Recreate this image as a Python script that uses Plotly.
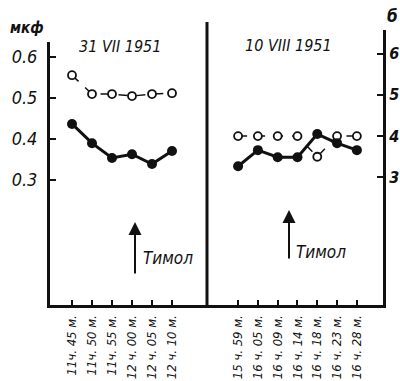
import plotly.graph_objects as go

# Readings, 31 VII 1951 (left scale, мкф)
left_times = ["11ч. 45 м.", "11ч. 50 м.", "11ч. 55 м.", "12 ч. 00 м.", "12 ч. 05 м.", "12 ч. 10 м."]
left_open = [0.556, 0.510, 0.510, 0.505, 0.510, 0.512]
left_filled = [0.437, 0.390, 0.354, 0.363, 0.339, 0.371]

# Readings, 10 VIII 1951 (right scale)
right_times = ["15 ч. 59 м.", "16 ч. 05 м.", "16 ч. 09 м.", "16 ч. 14 м.",
               "16 ч. 18 м.", "16 ч. 23 м.", "16 ч. 28 м."]
right_open = [4.0, 4.0, 4.0, 4.0, 3.5, 4.0, 4.0]
right_filled = [3.27, 3.66, 3.49, 3.49, 4.05, 3.83, 3.66]

left_ticks = [0.3, 0.4, 0.5, 0.6]
right_ticks = [3, 4, 5, 6]

FONT = "DejaVu Sans Condensed, Liberation Sans Narrow, Liberation Sans, sans-serif"
INK = "#111111"

W, H = 400, 381
L, R, T, B = 50, 17, 22, 76
PW, PH = W - L - R, H - T - B


def px(x):
    return (x - L) / PW


def py(y):
    return (H - B - y) / PH


fig = go.Figure()

li = list(range(len(left_times)))
ri = list(range(len(right_times)))

open_marker = dict(symbol="circle", size=8, color="white", line=dict(width=1.8, color=INK))
fill_marker = dict(symbol="circle", size=10, color=INK)

fig.add_trace(go.Scatter(
    x=li, y=left_open, xaxis="x", yaxis="y", mode="lines+markers",
    line=dict(color=INK, width=1.5, dash="dash"), marker=open_marker,
    showlegend=False, hoverinfo="skip"))
fig.add_trace(go.Scatter(
    x=li, y=left_filled, xaxis="x", yaxis="y", mode="lines+markers",
    line=dict(color=INK, width=3), marker=fill_marker,
    showlegend=False, hoverinfo="skip"))
fig.add_trace(go.Scatter(
    x=ri, y=right_open, xaxis="x2", yaxis="y2", mode="lines+markers",
    line=dict(color=INK, width=1.5, dash="dash"), marker=open_marker,
    showlegend=False, hoverinfo="skip"))
fig.add_trace(go.Scatter(
    x=ri, y=right_filled, xaxis="x2", yaxis="y2", mode="lines+markers",
    line=dict(color=INK, width=3), marker=fill_marker,
    showlegend=False, hoverinfo="skip"))

split = px(207)
tick_font = dict(family=FONT, size=13, color=INK, style="italic")

fig.update_layout(
    width=W, height=H,
    margin=dict(l=L, r=R, t=T, b=B, autoexpand=False),
    paper_bgcolor="white", plot_bgcolor="white",
    xaxis=dict(domain=[0, split], range=[-1.1, 6.75], anchor="y", automargin=False,
               tickmode="array", tickvals=li, ticktext=left_times,
               tickangle=-90, ticks="inside", ticklen=5, tickwidth=2, tickcolor=INK,
               ticklabelstandoff=2,
               showline=True, linewidth=3, linecolor=INK, showgrid=False, zeroline=False,
               tickfont=tick_font),
    xaxis2=dict(domain=[split, 1], range=[-1.57, 7.32], anchor="y2", automargin=False,
                tickmode="array", tickvals=ri, ticktext=right_times,
                tickangle=-90, ticks="inside", ticklen=5, tickwidth=2, tickcolor=INK,
                ticklabelstandoff=2,
                showline=True, linewidth=3, linecolor=INK, showgrid=False, zeroline=False,
                tickfont=tick_font),
    yaxis=dict(domain=[0, py(42)], range=[-0.005, 0.637], anchor="x", automargin=False,
               tickmode="array", tickvals=left_ticks,
               ticktext=[f"{v:.1f}" for v in left_ticks],
               ticks="inside", ticklen=6, tickwidth=2, tickcolor=INK,
               ticklabelstandoff=6,
               showline=True, linewidth=3, linecolor=INK, showgrid=False, zeroline=False,
               tickfont=dict(family=FONT, size=18, color=INK, style="italic")),
    yaxis2=dict(domain=[0, py(30)], range=[-0.09, 6.57], anchor="x2", side="right",
                automargin=False,
                tickmode="array", tickvals=right_ticks,
                ticktext=[str(v) for v in right_ticks],
                ticks="inside", ticklen=6, tickwidth=2, tickcolor=INK,
                ticklabelstandoff=0,
                showline=True, linewidth=3, linecolor=INK, showgrid=False, zeroline=False,
                tickfont=dict(family=FONT, size=16, color=INK, style="italic", weight="bold")),
    shapes=[dict(type="line", xref="paper", yref="paper",
                 x0=split, x1=split, y0=0, y1=1,
                 line=dict(color=INK, width=3))],
)

title_font = dict(family=FONT, size=16, color=INK, style="italic")


def label(text, x, y, font, xanchor="center"):
    fig.add_annotation(text=text, xref="paper", yref="paper", x=px(x), y=py(y),
                       xanchor=xanchor, yanchor="middle", showarrow=False, font=font)


label("мкф", 27, 28, dict(family=FONT, size=15, color=INK, style="italic", weight="bold"))
label("31 VII 1951", 120, 46, title_font)
label("10 VIII 1951", 288, 45, title_font)
label("б", 400, 16, dict(family=FONT, size=17, color=INK, style="italic", weight="bold"),
      xanchor="right")

# Thymol addition markers
for ax_x, head_y, tail_len, txt_x, txt_y in [(135, 222, 53, 141, 258),
                                             (289, 210, 50, 294, 252)]:
    fig.add_annotation(text="", xref="paper", yref="paper", x=px(ax_x), y=py(head_y),
                       ax=0, ay=tail_len, showarrow=True, arrowhead=2,
                       arrowsize=1.3, arrowwidth=2, arrowcolor=INK)
    label("Тимол", txt_x, txt_y, dict(family=FONT, size=17, color=INK, style="italic"),
          xanchor="left")

fig.write_html("out.html")
